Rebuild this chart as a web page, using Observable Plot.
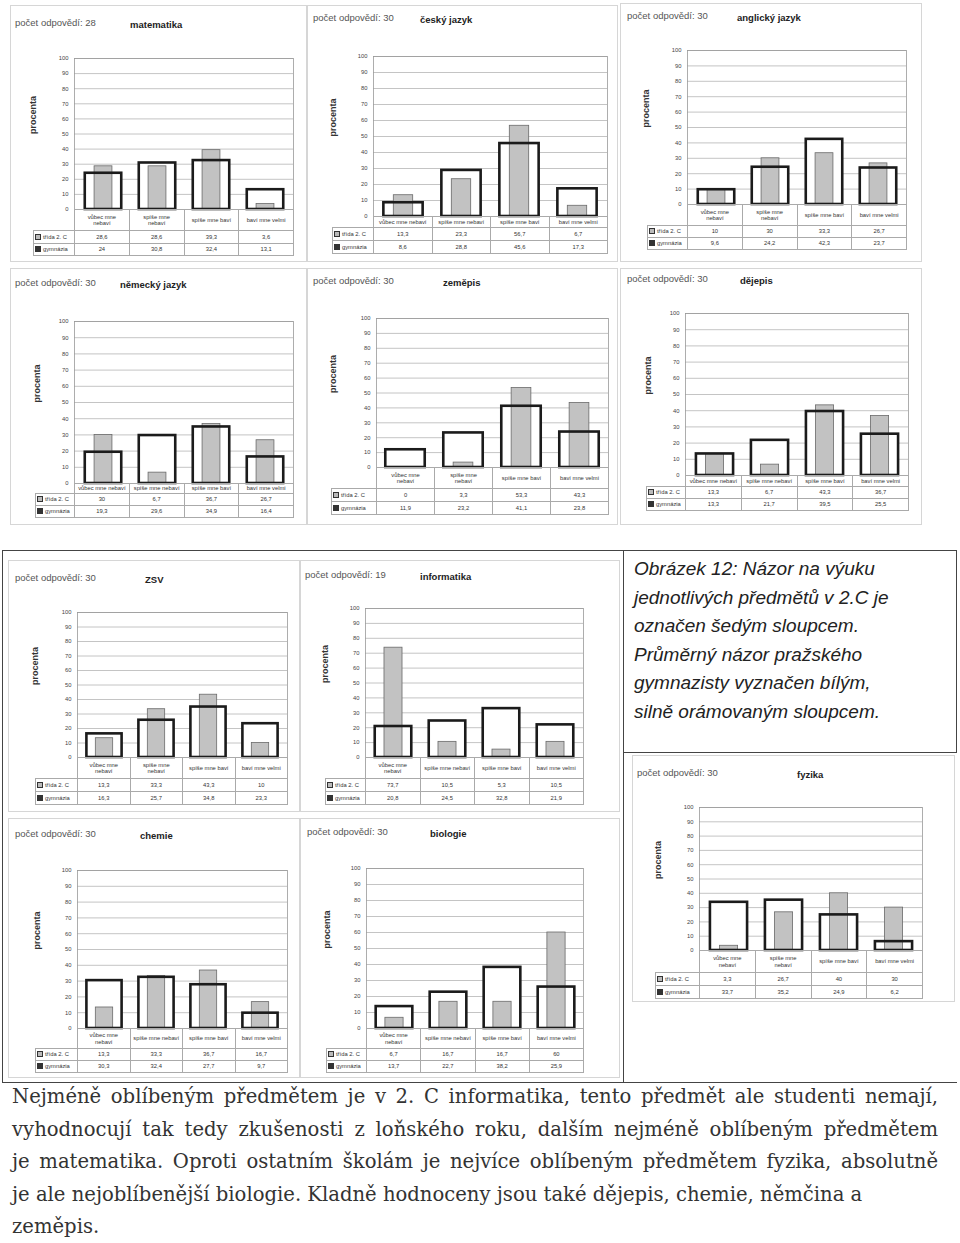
<!DOCTYPE html>
<html><head><meta charset="utf-8">
<script src="https://cdn.jsdelivr.net/npm/d3@7"></script>
<script src="https://cdn.jsdelivr.net/npm/@observablehq/plot@0.6"></script>
<style>
body{margin:0;background:#fff;}
#page{position:relative;width:960px;height:1243px;overflow:hidden;font-family:"Liberation Sans",Arial,sans-serif;}
.abs{position:absolute;}
.pb{position:absolute;border:1px solid #d6d6d6;box-sizing:border-box;}
.hdr{position:absolute;font-size:9.5px;color:#555;white-space:nowrap;line-height:10px;}
.ttl{position:absolute;font-size:9.5px;font-weight:bold;color:#222;white-space:nowrap;line-height:10px;}
table.t{position:absolute;border-collapse:collapse;table-layout:fixed;font-size:5.8px;color:#333;}
table.t td{border:1px solid #aaa;padding:0;text-align:center;line-height:6.5px;overflow:hidden;white-space:pre;}
table.t td.blank{border:none;}
table.t td.lg{text-align:left;padding-left:1px;}
.ic{display:inline-block;width:4px;height:4px;border:1px solid #333;vertical-align:-1px;margin-right:2px;}
.line{position:absolute;background:#444;}
.cap{position:absolute;left:634px;top:555px;font-family:"Liberation Sans",sans-serif;font-style:italic;font-size:19px;line-height:28.6px;color:#222;white-space:nowrap;}
.txt{position:absolute;left:12px;width:926px;font-family:"DejaVu Serif",serif;font-size:19.6px;color:#333;white-space:nowrap;}
.j{text-align:justify;text-align-last:justify;}
</style></head>
<body><div id="page"></div>
<script>
const categories = ["vůbec mne nebaví","spíše mne nebaví","spíše mne baví","baví mne velmi"];
const categoriesWrapped = ["vůbec mne\nnebaví","spíše mne\nnebaví","spíše mne baví","baví mne velmi"];
const seriesNames = ["třída 2. C","gymnázia"];
const countLabel = "počet odpovědí: ";
const axisLabel = "procenta";
const subjects = ["matematika","český jazyk","anglický jazyk","německý jazyk","zeměpis","dějepis","ZSV","informatika","fyzika","chemie","biologie"];
const responses = [28,30,30,30,30,30,30,19,30,30,30];
const classValues = [
  [28.6,28.6,39.3,3.6],
  [13.3,23.3,56.7,6.7],
  [10,30,33.3,26.7],
  [30,6.7,36.7,26.7],
  [0,3.3,53.3,43.3],
  [13.3,6.7,43.3,36.7],
  [13.3,33.3,43.3,10],
  [73.7,10.5,5.3,10.5],
  [3.3,26.7,40,30],
  [13.3,33.3,36.7,16.7],
  [6.7,16.7,16.7,60]
];
const gymValues = [
  [24,30.8,32.4,13.1],
  [8.6,28.8,45.6,17.3],
  [9.6,24.2,42.3,23.7],
  [19.3,29.6,34.9,16.4],
  [11.9,23.2,41.1,23.8],
  [13.3,21.7,39.5,25.5],
  [16.3,25.7,34.8,23.3],
  [20.8,24.5,32.8,21.9],
  [33.7,35.2,24.9,6.2],
  [30.3,32.4,27.7,9.7],
  [13.7,22.7,38.2,25.9]
];
const yTicks = [0,10,20,30,40,50,60,70,80,90,100];
const captionLines = ["Obrázek 12: Názor na výuku","jednotlivých předmětů v 2.C je","označen šedým sloupcem.","Průměrný názor pražského","gymnazisty vyznačen bílým,","silně orámovaným sloupcem."];
const textLines = [
  "Nejméně oblíbeným předmětem je v 2. C informatika, tento předmět ale studenti nemají,",
  "vyhodnocují tak tedy zkušenosti z loňského roku, dalším nejméně oblíbeným předmětem",
  "je matematika. Oproti ostatním školám je nejvíce oblíbeným předmětem fyzika, absolutně",
  "je ale nejoblíbenější biologie. Kladně hodnoceny jsou také dějepis, chemie, němčina a",
  "zeměpis."
];

// layout (page pixel geometry of each panel)
const layout = [
  {box:[10,5,297,257], hx:15, hy:18, tx:130, L:74, R:293, T:58, B:209, lg:33, lx:33, catH:21, rowH:12.5, wrap:[1,1,0,0]},
  {box:[307,5,311,257], hx:313, hy:13, tx:420, L:373, R:607, T:56, B:216, lg:332, lx:333, catH:11, rowH:13, wrap:[0,0,0,0]},
  {box:[620,3,302,259], hx:627, hy:11, tx:737, L:687, R:906, T:50, B:204, lg:647, lx:646, catH:21, rowH:12, wrap:[1,1,0,0]},
  {box:[10,268,297,257], hx:15, hy:278, tx:120, L:74, R:293, T:321, B:483, lg:35, lx:37, catH:10, rowH:12, wrap:[0,0,0,0]},
  {box:[307,268,311,257], hx:313, hy:276, tx:443, L:376, R:608, T:318, B:467, lg:331, lx:333, catH:21, rowH:13, wrap:[1,1,0,0]},
  {box:[620,268,302,257], hx:627, hy:274, tx:740, L:685, R:908, T:313, B:475, lg:646, lx:648, catH:11, rowH:12, wrap:[0,0,0,0]},
  {box:[8,560,292,252], hx:15, hy:573, tx:145, L:77, R:287, T:612, B:757, lg:35, lx:35, catH:21, rowH:13, wrap:[1,1,0,0]},
  {box:[300,560,320,252], hx:305, hy:570, tx:420, L:365, R:583, T:608, B:757, lg:325, lx:325, catH:21, rowH:13, wrap:[1,0,0,0]},
  {box:[632,755,323,247], hx:637, hy:768, tx:797, L:699, R:922, T:807, B:950, lg:655, lx:658, catH:22, rowH:13, wrap:[1,1,0,0]},
  {box:[8,818,292,260], hx:15, hy:829, tx:140, L:77, R:287, T:870, B:1028, lg:35, lx:37, catH:20, rowH:12, wrap:[1,0,0,0]},
  {box:[300,818,320,260], hx:307, hy:827, tx:430, L:366, R:583, T:868, B:1028, lg:326, lx:327, catH:20, rowH:12, wrap:[1,0,0,0]}
];

const page = document.getElementById("page");
function el(tag, cls, css, text){
  const e = document.createElement(tag);
  if (cls) e.className = cls;
  if (css) e.style.cssText = css;
  if (text != null) e.textContent = text;
  page.appendChild(e);
  return e;
}
const fmt = v => String(v).replace(".", ",");

subjects.forEach((subject, i) => {
  const g = layout[i];
  el("div","pb",`left:${g.box[0]}px;top:${g.box[1]}px;width:${g.box[2]}px;height:${g.box[3]}px;`);
  el("div","hdr",`left:${g.hx}px;top:${g.hy}px;`, countLabel + responses[i]);
  el("div","ttl",`left:${g.tx}px;top:${g.hy+2}px;`, subject);

  const data = categories.map((c,j)=>({cat:c, cls:classValues[i][j], gym:gymValues[i][j]}));
  const innerW = g.R - g.L, innerH = g.B - g.T;
  const band = innerW / 4;
  const mL = 60, mR = 4, mT = 4, mB = 4;
  const wIn = band*0.16, gIn = band*0.33;
  const svg = Plot.plot({
    width: innerW + mL + mR,
    height: innerH + mT + mB,
    marginLeft: mL, marginRight: mR, marginTop: mT, marginBottom: mB,
    x: {domain: categories, padding: 0, axis: null},
    y: {domain: [0,100], axis: null},
    style: {fontFamily: "Liberation Sans, Arial, sans-serif", overflow: "visible", background: "transparent"},
    marks: [
      Plot.gridY(yTicks, {stroke: "#b5b5b5", strokeOpacity: 1, strokeWidth: 0.8}),
      Plot.frame({stroke: "#9a9a9a", strokeWidth: 0.8}),
      Plot.axisY(yTicks, {tickSize: 0, tickPadding: 6, label: null, fontSize: 5.8, fill: "#444"}),
      Plot.text([axisLabel], {frameAnchor: "left", rotate: -90, dx: -(g.L - g.lx), fontWeight: "bold", fontSize: 9, fill: "#333"}),
      Plot.barY(data, {x: "cat", y: "gym", fill: "white", insetLeft: wIn, insetRight: wIn}),
      Plot.barY(data, {x: "cat", y: "cls", fill: "#c2c2c2", stroke: "#6a6a6a", strokeWidth: 0.8, insetLeft: gIn, insetRight: gIn}),
      Plot.barY(data, {x: "cat", y: "gym", fill: "none", stroke: "#1b1b1b", strokeWidth: 2.6, insetLeft: wIn, insetRight: wIn}),
      Plot.ruleY([0], {stroke: "#333", strokeWidth: 1})
    ]
  });
  svg.style.position = "absolute";
  svg.style.left = (g.L - mL) + "px";
  svg.style.top = (g.T - mT) + "px";
  page.appendChild(svg);

  // data table beneath the chart
  const t = el("table","t",`left:${g.lg}px;top:${g.B}px;width:${g.R - g.lg}px;`);
  const cg = document.createElement("colgroup");
  [g.L - g.lg, band, band, band, band].forEach(w => { const c = document.createElement("col"); c.style.width = w + "px"; cg.appendChild(c); });
  t.appendChild(cg);
  const r0 = document.createElement("tr"); r0.style.height = g.catH + "px";
  const b0 = document.createElement("td"); b0.className = "blank"; r0.appendChild(b0);
  categories.forEach((c,j) => { const td = document.createElement("td"); td.textContent = g.wrap[j] ? categoriesWrapped[j] : c; r0.appendChild(td); });
  t.appendChild(r0);
  [classValues[i], gymValues[i]].forEach((vals, s) => {
    const tr = document.createElement("tr"); tr.style.height = g.rowH + "px";
    const lg = document.createElement("td"); lg.className = "lg";
    const ic = document.createElement("span"); ic.className = "ic";
    ic.style.background = s === 0 ? "#bbb" : "#333";
    lg.appendChild(ic); lg.appendChild(document.createTextNode(seriesNames[s]));
    tr.appendChild(lg);
    vals.forEach(v => { const td = document.createElement("td"); td.textContent = fmt(v); tr.appendChild(td); });
    t.appendChild(tr);
  });
});

// frame of the lower part of the page
[[2,550,955,1],[2,550,1,532],[956,550,1,202],[623,550,1,532],[623,752,334,1],[2,1082,955,1]].forEach(r =>
  el("div","line",`left:${r[0]}px;top:${r[1]}px;width:${r[2]}px;height:${r[3]}px;`));

const cap = el("div","cap","");
cap.innerHTML = captionLines.join("<br>");

textLines.forEach((s, k) => {
  el("div", "txt" + (k < 3 ? " j" : ""), `top:${1085 + k*32.6}px;`, s);
});
</script>
</body></html>
